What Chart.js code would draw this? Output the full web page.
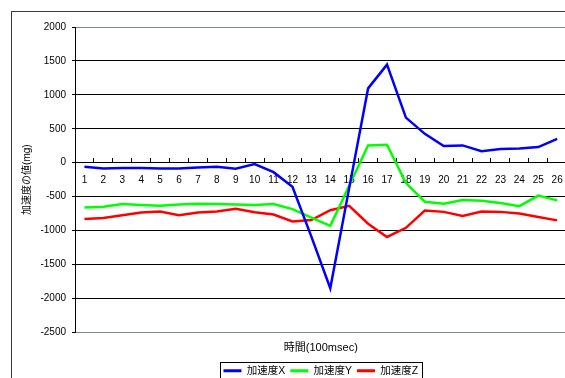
<!DOCTYPE html>
<html>
<head>
<meta charset="utf-8">
<script src="https://cdn.jsdelivr.net/npm/chart.js@4/dist/chart.umd.min.js"></script>
<style>
  html, body { margin: 0; padding: 0; background: #fff; overflow: hidden; width: 565px; height: 378px; }
  #wrap { position: relative; width: 565px; height: 378px; overflow: hidden; }
  #frame { position: absolute; left: 11px; top: 11px; width: 600px; height: 400px; border: 1px solid #3a3a3a; box-sizing: border-box; pointer-events: none; }
  canvas { position: absolute; left: 0; top: 0; }
</style>
</head>
<body>
<div id="wrap">
  <canvas id="chart" width="580" height="386"></canvas>
  <div id="frame"></div>
</div>
<script>
// Sample index (100 msec steps)
const timeLabels = ['1', '2', '3', '4', '5', '6', '7', '8', '9', '10', '11', '12', '13',
                    '14', '15', '16', '17', '18', '19', '20', '21', '22', '23', '24', '25', '26'];

// Acceleration per axis (mg)
const accelX = [-60, -85, -80, -80, -85, -85, -70, -60, -90, -20, -140, -355, -1090,
                -1850, -375, 1095, 1445, 665, 425, 245, 255, 170, 200, 210, 230, 350];
const accelY = [-660, -650, -610, -625, -635, -615, -605, -610, -615, -625, -610, -685, -810,
                -930, -340, 255, 265, -300, -575, -605, -550, -560, -595, -640, -485, -555];
const accelZ = [-830, -815, -775, -735, -720, -775, -735, -720, -680, -730, -765, -865, -845,
                -700, -635, -900, -1095, -960, -705, -725, -785, -720, -725, -750, -800, -850];

const seriesNames = ['加速度X', '加速度Y', '加速度Z'];
const yTicks = { min: -2500, max: 2000, step: 500 };

Chart.defaults.font.family = '"Liberation Sans", "Noto Sans CJK JP", sans-serif';
Chart.defaults.color = '#000';

// Center the legend row under the plot area instead of the whole canvas
const legendUnderPlot = {
  id: 'legendUnderPlot',
  afterLayout(chart) {
    const lg = chart.legend;
    if (!lg) return;
    lg.left = chart.chartArea.left;
    lg.right = chart.chartArea.right;
    lg.width = lg.right - lg.left;
  }
};

// Box drawn around the legend entries
const legendFrame = {
  id: 'legendFrame',
  afterDraw(chart) {
    const boxes = chart.legend && chart.legend.legendHitBoxes;
    if (!boxes || !boxes.length) return;
    const ctx = chart.ctx;
    const left = Math.min(...boxes.map(b => b.left)) - 3;
    const right = Math.max(...boxes.map(b => b.left + b.width)) + 4;
    const top = boxes[0].top - 4;
    ctx.save();
    ctx.strokeStyle = '#000';
    ctx.lineWidth = 1;
    ctx.strokeRect(Math.round(left) + 0.5, Math.round(top) + 0.5, Math.round(right - left), chart.height);
    ctx.restore();
  }
};

const lineSet = (label, data, color) => ({
  label, data,
  borderColor: color,
  backgroundColor: color,
  borderWidth: 2.5,
  pointRadius: 0,
  pointHoverRadius: 0,
  fill: false,
  tension: 0
});

new Chart(document.getElementById('chart'), {
  type: 'line',
  data: {
    labels: timeLabels,
    datasets: [
      lineSet(seriesNames[0], accelX, '#0000ff'),
      lineSet(seriesNames[1], accelY, '#00ff00'),
      lineSet(seriesNames[2], accelZ, '#ff0000')
    ]
  },
  options: {
    responsive: false,
    animation: false,
    layout: { padding: { top: 27, right: 11, left: 0, bottom: 0 } },
    plugins: {
      tooltip: { enabled: false },
      legend: {
        position: 'bottom',
        labels: {
          boxWidth: 18,
          boxHeight: 3,
          padding: 5,
          font: { size: 10.5 },
          color: '#000',
          generateLabels(chart) {
            return Chart.defaults.plugins.legend.labels.generateLabels(chart)
              .map(l => ({ ...l, lineWidth: 0, fillStyle: l.strokeStyle }));
          }
        }
      }
    },
    scales: {
      x: {
        type: 'category',
        position: { y: 0 },
        offset: true,
        grid: {
          offset: true,
          drawOnChartArea: false,
          drawTicks: true,
          tickLength: -5,
          tickColor: '#000'
        },
        border: { display: true, color: '#000', width: 1 },
        ticks: { font: { size: 10 }, color: '#000', padding: 17, maxRotation: 0, autoSkip: false }
      },
      xTitle: {
        type: 'category',
        position: 'bottom',
        grid: { display: false, drawTicks: false },
        border: { display: false },
        ticks: { display: false },
        title: { display: true, text: '時間(100msec)', font: { size: 11 }, color: '#000', padding: { top: 9, bottom: 6 } }
      },
      y: {
        min: yTicks.min,
        max: yTicks.max,
        afterFit(scale) { scale.width = 75; },
        ticks: {
          stepSize: yTicks.step,
          font: { size: 10 },
          color: '#000',
          padding: 6,
          callback: v => String(v)
        },
        grid: {
          color: ctx => (ctx.tick && (ctx.tick.value === yTicks.max || ctx.tick.value === yTicks.min)) ? '#7f8c8d' : '#000',
          lineWidth: 1,
          drawTicks: true,
          tickLength: 3,
          tickColor: '#000'
        },
        border: { display: true, color: '#000', width: 1 },
        title: { display: true, text: '加速度の値(mg)', font: { size: 10 }, color: '#000', padding: { top: 21, bottom: 0 } }
      }
    }
  },
  plugins: [legendUnderPlot, legendFrame]
});
</script>
</body>
</html>
